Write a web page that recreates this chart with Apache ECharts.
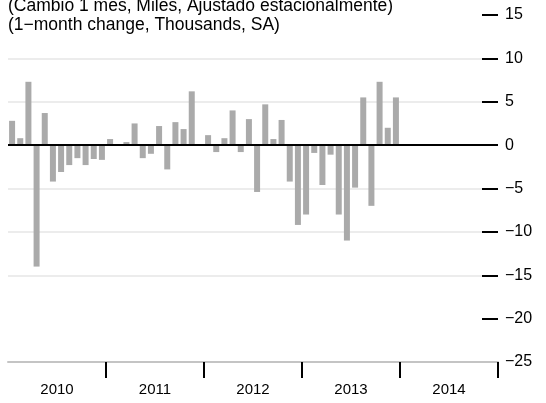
<!DOCTYPE html>
<html>
<head>
<meta charset="utf-8">
<script src="https://cdn.jsdelivr.net/npm/echarts@6/dist/echarts.min.js"></script>
<style>
html,body{margin:0;padding:0;background:#fff;}
#chart{width:546px;height:403px;}
</style>
</head>
<body>
<div id="chart"></div>
<script>
// Monthly categories Jan 2010 - Dec 2014
var years = ['2010', '2011', '2012', '2013', '2014'];
var months = [];
years.forEach(function (y) {
  for (var m = 1; m <= 12; m++) months.push(y + '-' + (m < 10 ? '0' + m : m));
});
// 1-month change, thousands, SA (Jan 2010 - Dec 2013)
var values2010 = [2.8, 0.8, 7.3, -14.0, 3.7, -4.2, -3.1, -2.3, -1.5, -2.3, -1.6, -1.7];
var values2011 = [0.7, 0.1, 0.35, 2.5, -1.5, -1.0, 2.2, -2.8, 2.65, 1.85, 6.2, 0];
var values2012 = [1.15, -0.8, 0.8, 4.0, -0.8, 3.0, -5.4, 4.7, 0.7, 2.9, -4.2, -9.2];
var values2013 = [-8.0, -0.9, -4.6, -1.1, -8.0, -11.0, -4.9, 5.5, -7.0, 7.3, 2.0, 5.5];
var values = values2010.concat(values2011, values2012, values2013);
var yTicks = [-25, -20, -15, -10, -5, 0, 5, 10, 15];
var titleLines = ['(Cambio 1 mes, Miles, Ajustado estacionalmente)', '(1\u2212month change, Thousands, SA)'];

var font = 'Liberation Sans, Arial, Helvetica, sans-serif';
var chart = echarts.init(document.getElementById('chart'), null, {renderer: 'canvas'});
chart.setOption({
  animation: false,
  title: {
    text: titleLines.join('\n'),
    left: 8, top: -3, padding: 0,
    textStyle: {fontFamily: font, fontSize: 17.5, fontWeight: 'normal', color: '#000', lineHeight: 19}
  },
  grid: {left: 8, right: 48, top: 15, bottom: 41, containLabel: false},
  xAxis: [{
    type: 'category', data: months, show: false, boundaryGap: true
  }, {
    type: 'value', min: 0, max: 60, position: 'bottom',
    splitLine: {show: false},
    axisLine: {show: true, onZero: false, lineStyle: {color: '#c4c4c4', width: 2}},
    axisTick: {show: true, length: 16, customValues: [12, 24, 36, 48, 60], lineStyle: {color: '#000', width: 2}},
    axisLabel: {
      show: true, margin: 20, customValues: [6, 18, 30, 42, 54],
      fontFamily: font, fontSize: 15, color: '#000',
      formatter: function (v) { return years[Math.floor(v / 12)]; }
    }
  }],
  yAxis: {
    type: 'value', position: 'right', min: -25, max: 15, interval: 5,
    axisLine: {show: false, onZero: false},
    axisTick: {show: true, inside: true, length: 16, customValues: yTicks.slice(1), lineStyle: {color: '#000', width: 2}},
    axisLabel: {
      margin: 7, fontFamily: font, fontSize: 16, color: '#000', customValues: yTicks,
      formatter: function (v) { return String(v).replace('-', '\u2212'); }
    },
    splitLine: {show: true, showMaxLine: false, showMinLine: false, lineStyle: {color: '#ececec', width: 2}}
  },
  series: [{
    type: 'bar', xAxisIndex: 0, yAxisIndex: 0,
    data: values, barWidth: 6,
    itemStyle: {color: '#aaaaaa'},
    markLine: {
      silent: true, symbol: 'none', label: {show: false},
      lineStyle: {color: '#000', width: 2, type: 'solid'},
      data: [{yAxis: 0}]
    }
  }]
});
</script>
</body>
</html>
